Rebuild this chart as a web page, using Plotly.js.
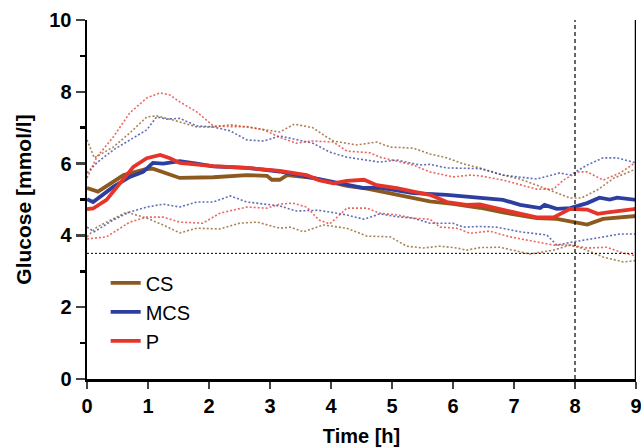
<!DOCTYPE html>
<html><head><meta charset="utf-8">
<script src="https://cdn.plot.ly/plotly-3.0.1.min.js"></script>
<style>html,body{margin:0;padding:0;background:#fff}#chart{width:641px;height:448px}</style>
</head><body><div id="chart"></div>
<script>
const seriesNames = ["CS", "MCS", "P"];
const seriesColors = ["#8C5A1E", "#2C3FA0", "#E5352A"];

const csMeanX = [0,0.18,0.6,0.98,1.08,1.52,2.07,2.62,2.95,3.03,3.16,3.28,3.7,4.26,4.59,5.08,5.62,6.0,6.44,6.82,7.37,7.7,7.92,8.2,8.46,9];
const csMeanY = [5.32,5.22,5.68,5.85,5.86,5.6,5.62,5.68,5.66,5.55,5.55,5.68,5.6,5.38,5.3,5.14,4.95,4.88,4.77,4.64,4.48,4.46,4.38,4.3,4.46,4.54];
const mcsMeanX = [0,0.1,0.43,0.7,0.92,1.08,1.25,1.52,1.8,2.07,2.62,3.16,3.7,4.26,4.54,4.8,5.35,5.9,6.44,6.82,7.1,7.43,7.5,7.7,7.92,8.2,8.4,8.57,8.69,9];
const mcsMeanY = [5.01,4.93,5.35,5.63,5.77,6.02,6.0,6.07,6.0,5.92,5.88,5.78,5.6,5.4,5.32,5.33,5.18,5.13,5.04,4.99,4.85,4.76,4.85,4.74,4.76,4.9,5.05,5.0,5.05,4.99];
const pMeanX = [0,0.1,0.32,0.54,0.76,0.98,1.2,1.36,1.52,2.07,2.62,3.16,3.6,3.8,4.04,4.26,4.54,4.75,5.08,5.35,5.62,5.9,6.22,6.44,6.82,7.1,7.37,7.65,7.92,8.2,8.37,8.57,9];
const pMeanY = [4.73,4.75,4.99,5.45,5.91,6.15,6.24,6.15,6.02,5.93,5.88,5.8,5.68,5.54,5.45,5.52,5.55,5.4,5.32,5.22,5.13,4.93,4.85,4.86,4.71,4.62,4.5,4.5,4.74,4.72,4.6,4.65,4.74];

const csUpX = [0,0.12,0.43,0.7,0.98,1.14,1.42,1.8,2.07,2.35,2.62,2.9,3.16,3.4,3.7,3.93,4.04,4.42,4.75,4.97,5.35,5.62,5.9,6.17,6.44,6.82,7.1,7.37,7.65,7.92,8.1,8.37,8.64,9];
const csUpY = [6.66,6.16,6.46,6.85,7.3,7.33,7.21,7.02,7.02,7.08,7.02,6.94,6.88,7.1,7.0,6.74,6.63,6.52,6.6,6.46,6.43,6.27,6.16,5.99,5.88,5.68,5.57,5.4,5.21,5.04,5.04,5.27,5.6,5.85];
const csLoX = [0,0.16,0.65,0.98,1.25,1.52,1.8,2.18,2.5,2.79,3.16,3.33,3.55,3.87,4.26,4.59,4.97,5.24,5.51,5.79,6.06,6.22,6.44,6.77,7.26,7.65,7.92,8.1,8.46,8.79,9];
const csLoY = [3.96,4.23,4.65,4.48,4.29,4.07,4.2,4.18,4.34,4.37,4.2,4.23,4.1,4.29,4.2,3.98,3.96,3.7,3.65,3.7,3.65,3.59,3.66,3.67,3.48,3.59,3.73,3.65,3.4,3.26,3.3];
const mcsUpX = [0,0.16,0.43,0.7,0.98,1.14,1.31,1.52,1.8,2.07,2.35,2.62,2.9,3.16,3.7,3.98,4.26,4.8,5.08,5.46,5.62,5.9,6.44,6.82,7.37,7.75,7.92,8.2,8.46,8.69,9];
const mcsUpY = [5.74,6.02,6.38,6.66,6.94,7.3,7.24,7.26,7.05,7.02,6.91,6.66,6.63,6.77,6.57,6.32,6.18,6.04,6.1,5.96,5.98,5.88,5.86,5.68,5.57,5.74,5.68,5.96,6.16,6.16,6.02];
const mcsLoX = [0,0.12,0.43,0.7,0.98,1.25,1.52,1.8,2.07,2.35,2.62,3.16,3.43,3.8,4.26,4.54,4.8,5.08,5.35,5.62,6.0,6.17,6.44,6.71,7.1,7.54,7.7,7.97,8.37,8.74,9];
const mcsLoY = [4.23,4.1,4.43,4.65,4.79,4.87,4.79,4.93,4.93,5.1,4.93,4.82,4.68,4.7,4.57,4.45,4.6,4.52,4.48,4.34,4.34,4.23,4.25,4.23,4.1,4.01,3.73,3.82,3.93,4.04,4.04];
const pUpX = [0,0.16,0.43,0.7,0.98,1.2,1.36,1.52,1.8,2.07,2.35,2.62,2.9,3.16,3.43,3.7,4.04,4.26,4.64,4.8,5.35,5.62,6.0,6.28,6.44,6.82,7.37,7.65,7.81,8.04,8.2,8.46,8.74,9];
const pUpY = [5.6,6.18,6.74,7.41,7.83,7.97,7.91,7.72,7.44,7.05,7.03,7.03,6.94,6.73,6.57,6.63,6.6,6.35,6.3,6.18,5.96,5.77,5.63,5.68,5.66,5.54,5.29,5.29,5.54,5.77,5.77,5.54,5.74,6.04];
const pLoX = [0,0.32,0.7,0.98,1.25,1.52,1.9,2.18,2.62,2.95,3.16,3.37,3.6,3.8,3.98,4.26,4.59,4.8,5.08,5.35,5.62,5.79,6.06,6.28,6.6,6.93,7.37,7.65,7.92,8.2,8.52,8.79,9];
const pLoY = [3.9,3.96,4.37,4.51,4.51,4.37,4.34,4.62,4.79,4.76,4.87,4.9,4.79,4.43,4.32,4.76,4.76,4.62,4.57,4.48,4.45,4.23,4.2,4.06,4.12,3.96,3.82,3.73,3.73,3.65,3.67,3.51,3.43];

const xTicks = [0,1,2,3,4,5,6,7,8,9];
const yTicks = [0,2,4,6,8,10];
const hypoLevel = 3.5;
const markerTime = 8;

const FONT = "Liberation Sans, Arial, sans-serif";
function dotted(x, y, c) {
  return {x, y, type: "scatter", mode: "lines", showlegend: false, hoverinfo: "skip",
    opacity: 0.75, line: {color: c, width: 1.6, dash: "2px,2px"}};
}
function mean(x, y, name, c) {
  return {x, y, name, type: "scatter", mode: "lines", line: {color: c, width: 3.8}};
}
const traces = [
  dotted(csUpX, csUpY, seriesColors[0]), dotted(csLoX, csLoY, seriesColors[0]),
  dotted(mcsUpX, mcsUpY, seriesColors[1]), dotted(mcsLoX, mcsLoY, seriesColors[1]),
  dotted(pUpX, pUpY, seriesColors[2]), dotted(pLoX, pLoY, seriesColors[2]),
  mean(csMeanX, csMeanY, seriesNames[0], seriesColors[0]),
  mean(mcsMeanX, mcsMeanY, seriesNames[1], seriesColors[1]),
  mean(pMeanX, pMeanY, seriesNames[2], seriesColors[2])
];

const layout = {
  width: 641, height: 448,
  margin: {l: 87, r: 5, t: 20, b: 69},
  paper_bgcolor: "#fff", plot_bgcolor: "#fff",
  font: {family: FONT, color: "#000"},
  showlegend: true,
  legend: {x: 0.034, y: 0.322, xanchor: "left", yanchor: "top", bgcolor: "rgba(0,0,0,0)",
    font: {size: 20, family: FONT}, tracegroupgap: 0, itemwidth: 30},
  xaxis: {range: [0, 9], tickvals: xTicks, ticks: "outside", ticklen: 7, tickwidth: 2.5,
    ticklabeloverflow: "allow",
    showline: true, linewidth: 2.5, linecolor: "#000", showgrid: false, zeroline: false,
    tickfont: {size: 20, family: FONT, weight: "bold"},
    title: {text: "Time [h]", font: {size: 20, family: FONT, weight: "bold"}, standoff: 14}},
  yaxis: {range: [0, 10], tickvals: yTicks, ticks: "outside", ticklen: 9, tickwidth: 2.5,
    minor: {dtick: 1, ticks: "outside", ticklen: 5, tickwidth: 2.5, tickcolor: "#000"},
    showline: true, linewidth: 2.5, linecolor: "#000", showgrid: false, zeroline: false,
    tickfont: {size: 20, family: FONT, weight: "bold"},
    title: {text: "Glucose [mmol/l]", font: {size: 21, family: FONT, weight: "bold"}, standoff: 12}},
  shapes: [
    {type: "line", xref: "x", yref: "y", x0: 0, x1: 9, y0: hypoLevel, y1: hypoLevel,
      line: {color: "#000", width: 1, dash: "2px,2px"}},
    {type: "line", xref: "x", yref: "y", x0: markerTime, x1: markerTime, y0: 0, y1: 10,
      line: {color: "#000", width: 1.2, dash: "4px,3px"}},
    {type: "line", xref: "x", yref: "y", x0: 9, x1: 9, y0: 0, y1: 10,
      line: {color: "#000", width: 2.5}}
  ]
};
Plotly.newPlot("chart", traces, layout, {staticPlot: true});
</script></body></html>
